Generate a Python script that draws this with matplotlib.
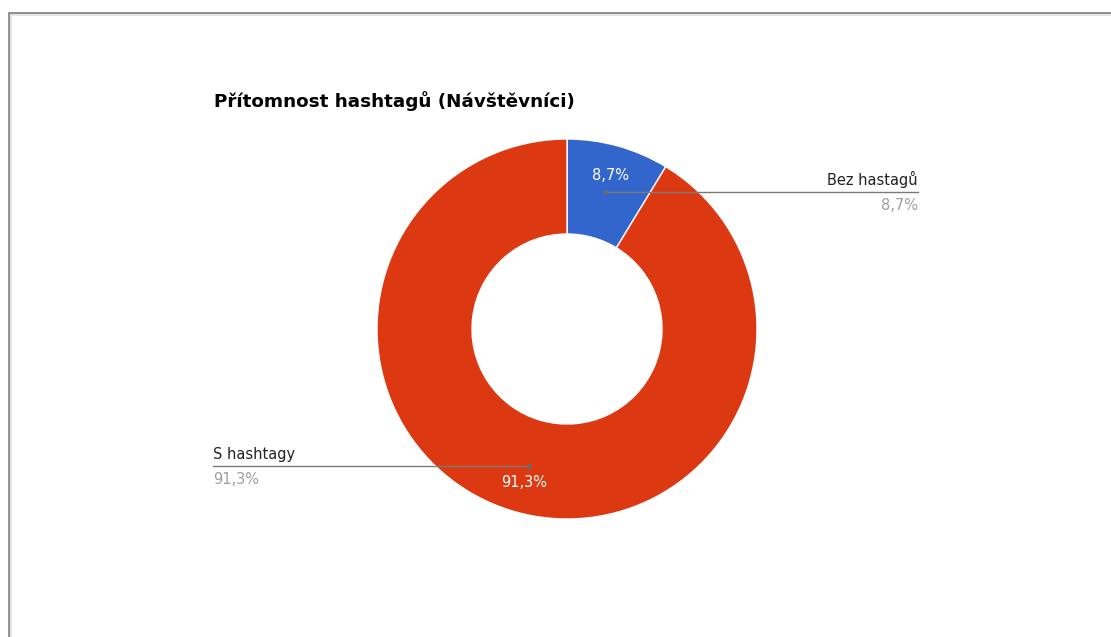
import numpy as np
import matplotlib.pyplot as plt
from matplotlib.lines import Line2D

plt.rcParams['font.family'] = ['DejaVu Sans']

# Data
labels = ['Bez hastagů', 'S hashtagy']
values = [8.7, 91.3]
pct_text = ['8,7%', '91,3%']
colors = ['#3366cc', '#dc3912']
title = 'Přítomnost hashtagů (Návštěvníci)'

W, H = 1111, 637
fig = plt.figure(figsize=(W / 100, H / 100), dpi=100)
ax = fig.add_axes([0, 0, 1, 1])

# page border (left and top edge of the sheet) with a faint inner shadow
edge = dict(solid_capstyle='butt')
fig.add_artist(Line2D([8.5 / W, 8.5 / W], [0, 1 - 11.5 / H], color='#8a8a8a', lw=2, **edge))
fig.add_artist(Line2D([7.5 / W, 1], [1 - 12.5 / H, 1 - 12.5 / H], color='#8a8a8a', lw=2, **edge))
fig.add_artist(Line2D([11 / W, 11 / W], [0, 1 - 14 / H], color='#e4e4e4', lw=1.5, **edge))
fig.add_artist(Line2D([10 / W, 1], [1 - 15 / H, 1 - 15 / H], color='#e4e4e4', lw=1.5, **edge))

cx, cy, R = 567, H - 329, 190
wedges, _ = ax.pie(values, colors=colors, startangle=90, counterclock=False,
                   radius=R, center=(cx, cy),
                   wedgeprops=dict(width=R * 0.5, edgecolor='white', linewidth=1))

# pie() resets the limits, so set the pixel frame afterwards
ax.set_xlim(0, W)
ax.set_ylim(0, H)
ax.set_aspect('equal')
ax.axis('off')

ax.text(214, H - 101, title, fontsize=13.2, fontweight='bold', color='black',
        ha='left', va='center')

# label end points for the leader lines
label_x = [918, 213]
for i, w in enumerate(wedges):
    mid = np.deg2rad((w.theta1 + w.theta2) / 2)
    ux, uy = np.cos(mid), np.sin(mid)
    # percentage inside the ring
    ax.text(cx + ux * R * 0.84, cy + uy * R * 0.84, pct_text[i], color='white',
            fontsize=10.5, ha='center', va='center')
    # leader dot and horizontal line
    dx, dy = cx + ux * R * 0.75, cy + uy * R * 0.75
    ax.plot([dx, label_x[i]], [dy, dy], color='#7a7a7a', lw=1)
    ax.plot(dx, dy, 'o', color='#6a6a6a', ms=2.5)
    ha = 'right' if label_x[i] > cx else 'left'
    ax.text(label_x[i], dy + 4, labels[i], color='#222222', fontsize=10.5,
            ha=ha, va='bottom')
    ax.text(label_x[i], dy - 6, pct_text[i], color='#9e9e9e', fontsize=10.5,
            ha=ha, va='top')

fig.savefig('out.png', dpi=100, facecolor='white')
